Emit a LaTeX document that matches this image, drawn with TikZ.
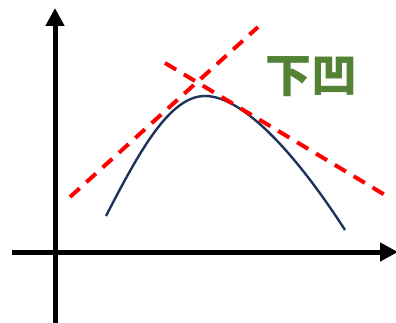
\documentclass[tikz,border=0pt]{standalone}
\usepackage{fontspec}
\usepackage{xcolor}
\usepackage{tikz}
\usetikzlibrary{arrows.meta,positioning}
\newfontfamily\cjk{Noto Sans CJK SC}
\definecolor{cvnavy}{RGB}{31,50,90}
\definecolor{cvred}{RGB}{255,0,0}
\definecolor{cvgreen}{RGB}{84,130,53}

\begin{document}
\begin{tikzpicture}[x=1pt, y=-1pt,
    axis/.style={line width=5pt, -{Triangle[width=18pt,length=18pt]}},
    tangent/.style={cvred, line width=4pt, dash pattern=on 13pt off 9pt},
    curve/.style={cvnavy, line width=2.4pt},
    label/.style={font=\cjk\bfseries\fontsize{46}{46}\selectfont, text=cvgreen},
  ]
  \useasboundingbox (0,0) rectangle (396,323);

  % Achsen
  \coordinate (ybot) at (55,323);
  \coordinate (ytop) at (55,8);
  \coordinate (xleft) at (12,252);
  \coordinate (xright) at (398,252);
  \draw[axis] (ybot) -- (ytop);
  \draw[axis] (xleft) -- (xright);

  % Kurve
  \coordinate (cstart) at (106,216);
  \coordinate (cpeak) at (205,96);
  \coordinate (cend) at (345,230);
  \draw[curve] (cstart) .. controls (140,150) and (170,96) .. (cpeak)
                        .. controls (245,96) and (300,160) .. (cend);

  % Tangenten
  \coordinate (ta) at (70,197);
  \coordinate (tb) at (258,27);
  \coordinate (tc) at (165,63);
  \coordinate (td) at (385,195);
  \draw[tangent] (ta) -- (tb);
  \draw[tangent] (tc) -- (td);

  % Beschriftung
  \node[label] (concave) at (311,77) {下凹};
\end{tikzpicture}
\end{document}
